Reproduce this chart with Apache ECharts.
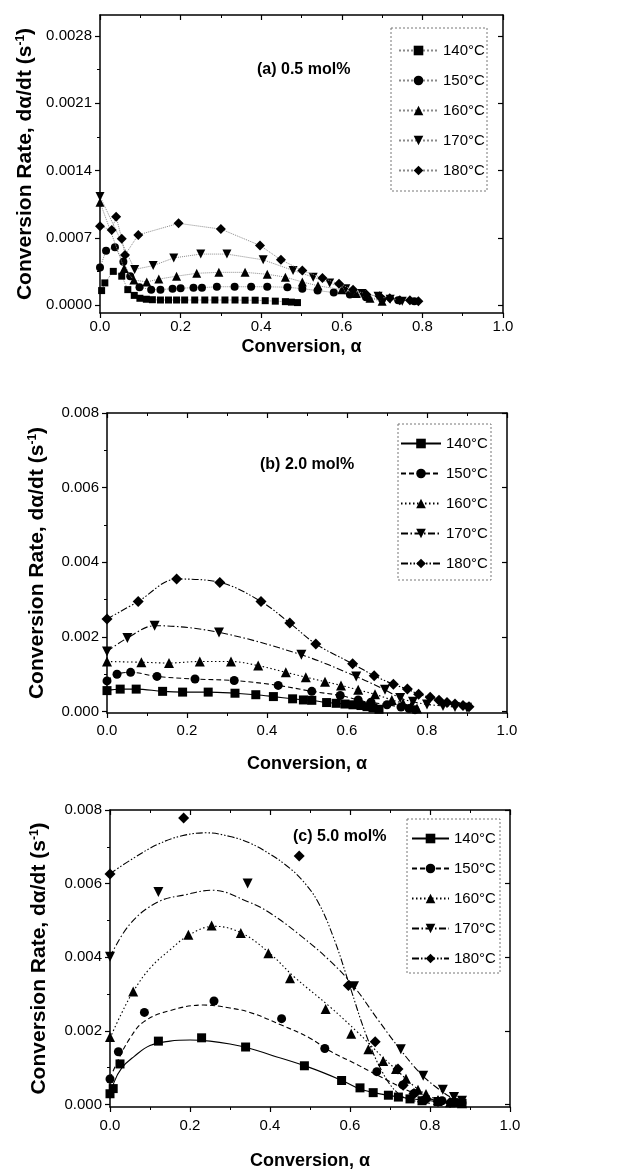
<!DOCTYPE html>
<html><head><meta charset="utf-8">
<script src="https://cdn.jsdelivr.net/npm/echarts@6/dist/echarts.min.js"></script>
<style>html,body{margin:0;padding:0;background:#fff}#c{width:629px;height:1171px}</style>
</head><body><div id="c"></div>
<script>
// ---------- labels / ticks ----------
const temps = ['140°C','150°C','160°C','170°C','180°C'];
const panelLabels = ['(a) 0.5 mol%','(b) 2.0 mol%','(c) 5.0 mol%'];
const xTitle = 'Conversion, α';
const yTitle = 'Conversion Rate, dα/dt (s{sup|-1})';
const xTicks = [0,0.2,0.4,0.6,0.8,1.0];
const xTickLabels = ['0.0','0.2','0.4','0.6','0.8','1.0'];
const yTicksA = [0,0.0007,0.0014,0.0021,0.0028];
const yTickLabelsA = ['0.0000','0.0007','0.0014','0.0021','0.0028'];
const yMinorA = [0.00035,0.00105,0.00175,0.00245];
const yTicksBC = [0,0.002,0.004,0.006,0.008];
const yTickLabelsBC = ['0.000','0.002','0.004','0.006','0.008'];
const yMinorBC = [0.001,0.003,0.005,0.007];

// ---------- panel (a) 0.5 mol% : [alpha, rate] ----------
const a140 = [[0.004,0.00015],[0.012,0.00023],[0.033,0.00035],[0.054,0.0003],[0.069,0.00016],[0.085,0.0001],[0.099,0.00007],[0.115,0.00006],[0.13,0.000055],[0.15,0.000052],[0.17,0.000052],[0.19,0.000052],[0.21,0.000052],[0.235,0.000052],[0.26,0.000052],[0.285,0.000052],[0.31,0.000052],[0.335,0.000052],[0.36,0.00005],[0.385,0.00005],[0.41,0.000045],[0.435,0.00004],[0.46,0.000035],[0.475,0.00003],[0.49,0.000025]];
const a150 = [[0,0.00039],[0.015,0.000565],[0.037,0.0006],[0.058,0.00045],[0.075,0.0003],[0.098,0.000185],[0.127,0.00016],[0.15,0.00016],[0.18,0.00017],[0.2,0.000175],[0.232,0.00018],[0.253,0.00018],[0.29,0.00019],[0.334,0.00019],[0.375,0.00019],[0.415,0.00019],[0.465,0.000185],[0.502,0.00017],[0.54,0.00015],[0.58,0.00013],[0.62,0.00011],[0.66,0.00008],[0.7,0.00006],[0.74,0.00005],[0.78,0.00004]];
const a160 = [[0,0.00107],[0.06,0.00038],[0.084,0.00026],[0.116,0.00024],[0.146,0.00027],[0.19,0.0003],[0.24,0.00033],[0.295,0.00034],[0.36,0.00034],[0.415,0.00032],[0.46,0.00029],[0.502,0.00024],[0.541,0.0002],[0.6,0.00016],[0.636,0.00012],[0.67,0.00007],[0.7,0.00004]];
const a170 = [[0,0.00113],[0.086,0.00037],[0.132,0.00041],[0.183,0.00049],[0.25,0.00053],[0.315,0.00053],[0.405,0.00047],[0.479,0.00036],[0.529,0.00029],[0.57,0.00023],[0.61,0.00017],[0.65,0.00012],[0.69,0.00009],[0.72,0.00006],[0.75,0.00004]];
const a180 = [[0,0.00082],[0.029,0.00078],[0.04,0.00092],[0.054,0.00069],[0.062,0.00052],[0.095,0.00073],[0.195,0.00085],[0.3,0.00079],[0.397,0.00062],[0.449,0.00047],[0.502,0.00036],[0.552,0.00028],[0.593,0.00022],[0.628,0.00016],[0.661,0.00011],[0.694,0.00009],[0.719,0.00007],[0.744,0.00005],[0.769,0.00005],[0.79,0.00004]];

// ---------- panel (b) 2.0 mol% ----------
const b140 = [[0,0.00056],[0.033,0.0006],[0.073,0.0006],[0.139,0.00054],[0.189,0.00052],[0.253,0.00052],[0.32,0.00049],[0.372,0.00045],[0.416,0.0004],[0.464,0.00034],[0.491,0.00031],[0.512,0.0003],[0.549,0.00024],[0.573,0.00022],[0.595,0.0002],[0.615,0.00018],[0.635,0.00016],[0.65,0.00013],[0.665,0.0001],[0.68,0.00006]];
const b150 = [[0,0.00082],[0.025,0.001],[0.059,0.00105],[0.125,0.00094],[0.22,0.00087],[0.318,0.00083],[0.428,0.0007],[0.512,0.00054],[0.583,0.00043],[0.628,0.00031],[0.66,0.00025],[0.7,0.00018],[0.735,0.00012],[0.755,0.00008],[0.77,0.00005]];
const b160 = [[0,0.00134],[0.086,0.00132],[0.155,0.0013],[0.232,0.00134],[0.31,0.00134],[0.378,0.00123],[0.447,0.00105],[0.497,0.00092],[0.545,0.0008],[0.585,0.0007],[0.628,0.00058],[0.67,0.00046],[0.712,0.00031],[0.74,0.00022],[0.76,0.00014],[0.775,0.00008]];
const b170 = [[0,0.00161],[0.051,0.00197],[0.119,0.0023],[0.28,0.00212],[0.486,0.00152],[0.623,0.00094],[0.695,0.00058],[0.733,0.00036],[0.765,0.00026],[0.8,0.00019],[0.84,0.00015],[0.87,0.00012],[0.9,0.0001]];
const b180 = [[0,0.00248],[0.078,0.00295],[0.174,0.00355],[0.282,0.00346],[0.385,0.00295],[0.457,0.00237],[0.522,0.00181],[0.614,0.00128],[0.668,0.00096],[0.716,0.00073],[0.751,0.0006],[0.779,0.00046],[0.808,0.00038],[0.83,0.0003],[0.85,0.00024],[0.87,0.0002],[0.89,0.00016],[0.905,0.00013]];

// ---------- panel (c) 5.0 mol% : measured points ----------
const c140 = [[0,0.00029],[0.008,0.00043],[0.025,0.0011],[0.121,0.00172],[0.229,0.00181],[0.339,0.00156],[0.486,0.00105],[0.579,0.00065],[0.625,0.00045],[0.658,0.00032],[0.696,0.00025],[0.721,0.0002],[0.75,0.00015],[0.78,0.0001],[0.82,0.00008],[0.86,0.00005],[0.88,0.00003]];
const c150 = [[0,0.00069],[0.021,0.00143],[0.086,0.0025],[0.26,0.00281],[0.429,0.00233],[0.537,0.00152],[0.667,0.00089],[0.732,0.00053],[0.76,0.0003],[0.79,0.00015],[0.83,0.0001],[0.86,0.00006],[0.88,0.00004]];
const c160 = [[0,0.00183],[0.058,0.00307],[0.196,0.00461],[0.254,0.00486],[0.327,0.00466],[0.396,0.00411],[0.45,0.00343],[0.539,0.00259],[0.603,0.00192],[0.646,0.0015],[0.683,0.00118],[0.715,0.00096],[0.74,0.0007],[0.77,0.0004],[0.79,0.00028],[0.82,0.00012],[0.85,0.00006],[0.88,0.00003]];
const c170 = [[0,0.00401],[0.121,0.00577],[0.344,0.006],[0.61,0.00321],[0.727,0.0015],[0.783,0.00078],[0.832,0.0004],[0.86,0.0002],[0.88,0.0001]];
const c180 = [[0,0.00626],[0.184,0.00778],[0.473,0.00675],[0.596,0.00323],[0.663,0.0017],[0.72,0.00096],[0.733,0.00052],[0.76,0.0003],[0.79,0.00015],[0.82,0.00008],[0.85,0.00005]];
// ---------- panel (c) fitted curves ----------
const c140fit = [[0,0.00016],[0.01,0.0006],[0.03,0.001],[0.06,0.0013],[0.1,0.0016],[0.15,0.00172],[0.2,0.00175],[0.25,0.00172],[0.3,0.00164],[0.35,0.00152],[0.4,0.00135],[0.5,0.001],[0.58,0.00065],[0.62,0.00044],[0.66,0.00032],[0.7,0.00024],[0.75,0.00016],[0.8,0.0001],[0.85,0.00005],[0.88,0.00003]];
const c150fit = [[0,0.0007],[0.02,0.0012],[0.05,0.0018],[0.085,0.00225],[0.15,0.00255],[0.234,0.0027],[0.3,0.00262],[0.35,0.0025],[0.43,0.00215],[0.5,0.0018],[0.55,0.00145],[0.6,0.00118],[0.65,0.0009],[0.7,0.00062],[0.75,0.00035],[0.8,0.00015],[0.85,0.00005],[0.88,0.00002]];
const c160fit = [[0,0.0018],[0.03,0.0025],[0.06,0.0031],[0.1,0.0037],[0.15,0.0042],[0.2,0.00462],[0.26,0.00484],[0.33,0.00465],[0.4,0.0041],[0.46,0.00347],[0.55,0.00265],[0.62,0.00195],[0.68,0.0013],[0.72,0.0009],[0.76,0.0005],[0.8,0.00022],[0.84,0.00008],[0.88,0.00003]];
const c170fit = [[0,0.004],[0.05,0.0049],[0.12,0.0055],[0.19,0.0057],[0.255,0.00582],[0.347,0.0055],[0.4,0.0052],[0.475,0.0046],[0.55,0.0039],[0.61,0.0032],[0.67,0.0023],[0.725,0.0015],[0.78,0.0008],[0.83,0.00035],[0.86,0.00015],[0.89,0.00005]];
const c180fit = [[0,0.00627],[0.06,0.0067],[0.12,0.00707],[0.18,0.0073],[0.24,0.00738],[0.3,0.00728],[0.35,0.0071],[0.4,0.0068],[0.44,0.0065],[0.48,0.0061],[0.52,0.0055],[0.56,0.0045],[0.6,0.0032],[0.64,0.0019],[0.68,0.0009],[0.72,0.0003],[0.76,0.0001],[0.8,0.00003]];

// ---------- build ----------
const FONT = '"Liberation Sans", Arial, Helvetica, sans-serif';
const DOWN = 'path://M0,0 L10,0 L5,9 Z';
const DIAM = 'path://M5,0 L10,5 L5,10 L0,5 Z';
const symbols = ['rect','circle','triangle',DOWN,DIAM];
const symSizeA = [7,8,9,9,10];
const symSizeBC = [9,9,10,10,11];
const dashes = ['solid',[5,3],[1.5,2.5],[7,2.5,1.5,2.5],[7,2,1.5,2,1.5,2]];

const grids = [
  {left:100, top:15, width:403, height:298},
  {left:107, top:413, width:400, height:300},
  {left:110, top:810, width:400, height:302}
];
const yRange = [[-0.0000833,0.003019],[-0.00004,0.008],[-0.00007,0.008]];
const yTicks = [yTicksA,yTicksBC,yTicksBC];
const yLabels = [yTickLabelsA,yTickLabelsBC,yTickLabelsBC];
const yMinor = [yMinorA,yMinorBC,yMinorBC];
const xNameGap = [25,42,45];
const xLabelMargin = [6,10,11];
const yNameGap = [64,59,60];

const xAxes = [], yAxes = [];
grids.forEach((g,i)=>{
  const fmtX = v => { const k = xTicks.findIndex(t=>Math.abs(t-v)<1e-9); return k<0?'':xTickLabels[k]; };
  xAxes.push({gridIndex:i,type:'value',min:0,max:1,interval:0.2,position:'bottom',
    axisLine:{show:true,onZero:false,lineStyle:{color:'#000',width:1.5}},
    axisTick:{show:true,inside:false,length:5,lineStyle:{color:'#000',width:1.2}},
    minorTick:{show:true,splitNumber:2,length:3,lineStyle:{color:'#000',width:1}},
    splitLine:{show:false},
    axisLabel:{formatter:fmtX,margin:xLabelMargin[i],fontSize:15,color:'#000',fontFamily:FONT},
    name:xTitle,nameLocation:'middle',nameGap:xNameGap[i],
    nameTextStyle:{fontSize:18,fontWeight:'bold',color:'#000',fontFamily:FONT}});
  xAxes.push({gridIndex:i,type:'value',min:0,max:1,interval:0.2,position:'top',
    axisLine:{show:true,onZero:false,lineStyle:{color:'#000',width:1.5}},
    axisTick:{show:true,inside:true,length:5,lineStyle:{color:'#000',width:1.2}},
    minorTick:{show:true,splitNumber:2,length:3,lineStyle:{color:'#000',width:1}},
    splitLine:{show:false},axisLabel:{show:false}});
  const yl = yLabels[i], yt = yTicks[i];
  const fmtY = v => { const k = yt.findIndex(t=>Math.abs(t-v)<1e-12); return k<0?'':yl[k]; };
  yAxes.push({gridIndex:i,type:'value',min:yRange[i][0],max:yRange[i][1],position:'left',
    axisLine:{show:true,onZero:false,lineStyle:{color:'#000',width:1.5}},
    axisTick:{show:true,inside:false,length:5,customValues:yt,lineStyle:{color:'#000',width:1.2}},
    axisLabel:{customValues:yt,formatter:fmtY,margin:8,fontSize:15,color:'#000',fontFamily:FONT},
    splitLine:{show:false},
    name:yTitle,nameLocation:'middle',nameGap:yNameGap[i],nameRotate:90,
    nameTextStyle:{fontSize:21,fontWeight:'bold',color:'#000',fontFamily:FONT,
      rich:{sup:{fontSize:12,fontWeight:'bold',color:'#000',fontFamily:FONT,verticalAlign:'top',padding:[0,0,9,0]}}}});
  yAxes.push({gridIndex:i,type:'value',min:yRange[i][0],max:yRange[i][1],position:'left',
    axisLine:{show:false},
    axisTick:{show:true,inside:false,length:3,customValues:yMinor[i],lineStyle:{color:'#000',width:1}},
    axisLabel:{show:false},splitLine:{show:false}});
  yAxes.push({gridIndex:i,type:'value',min:yRange[i][0],max:yRange[i][1],position:'right',
    axisLine:{show:true,onZero:false,lineStyle:{color:'#000',width:1.5}},
    axisTick:{show:true,inside:true,length:5,customValues:yt,lineStyle:{color:'#000',width:1.2}},
    axisLabel:{show:false},splitLine:{show:false}});
});

const series = [];
const panelData = [[a140,a150,a160,a170,a180],[b140,b150,b160,b170,b180],[c140,c150,c160,c170,c180]];
const fitData = [c140fit,c150fit,c160fit,c170fit,c180fit];
const prefixes = ['a','b','c'];
temps.forEach((t,k)=>{
  // (a) points joined by faint dotted lines
  series.push({name:'a'+t,type:'line',xAxisIndex:0,yAxisIndex:0,data:panelData[0][k],
    symbol:symbols[k],symbolSize:symSizeA[k],showSymbol:true,smooth:false,
    itemStyle:{color:'#000',opacity:1},lineStyle:{color:'#8a8a8a',width:1,type:'dotted'},z:3+k,animation:false});
  // (b) smooth curves through the points
  series.push({name:'b'+t,type:'line',xAxisIndex:2,yAxisIndex:3,data:panelData[1][k],
    symbol:symbols[k],symbolSize:symSizeBC[k],showSymbol:true,smooth:0.35,
    itemStyle:{color:'#000',opacity:1},lineStyle:{color:'#000',width:1.1,type:dashes[k]},z:3+k,animation:false});
  // (c) fitted curves + measured points
  series.push({name:'c'+t,type:'line',xAxisIndex:4,yAxisIndex:6,data:fitData[k],
    symbol:symbols[k],symbolSize:symSizeBC[k],showSymbol:false,smooth:0.4,
    itemStyle:{color:'#000',opacity:1},lineStyle:{color:'#000',width:1.1,type:dashes[k]},z:3,animation:false});
  series.push({name:'cpts'+t,type:'scatter',xAxisIndex:4,yAxisIndex:6,data:panelData[2][k],
    symbol:symbols[k],symbolSize:symSizeBC[k],itemStyle:{color:'#000',opacity:1},z:5+k,animation:false});
});

const legendPos = [{left:398,top:43,w:39},{left:400,top:436,w:40},{left:411,top:831,w:37}];
const legends = prefixes.map((p,i)=>({
  data:temps.map(t=>p+t),orient:'vertical',left:legendPos[i].left,top:legendPos[i].top,
  padding:0,itemWidth:legendPos[i].w,itemHeight:12,itemGap:15,selectedMode:false,
  formatter:name=>name.slice(1),
  textStyle:{fontSize:15,color:'#000',fontFamily:FONT}
}));

const titlePos = [{left:257,top:62},{left:260,top:457},{left:293,top:829}];
const titles = panelLabels.map((s,i)=>({text:s,left:titlePos[i].left,top:titlePos[i].top,padding:0,
  textStyle:{fontSize:16,fontWeight:'bold',color:'#000',fontFamily:FONT}}));

const boxes = [[391,28,96,163],[398,424,93,156],[407,819,93,154]];
const graphic = boxes.map(b=>({type:'rect',shape:{x:b[0],y:b[1],width:b[2],height:b[3]},
  style:{fill:'none',stroke:'#777',lineWidth:1,lineDash:[2,2]},silent:true,z:1}));

const chart = echarts.init(document.getElementById('c'),null,{renderer:'canvas'});
chart.setOption({
  backgroundColor:'#fff',animation:false,
  title:titles,legend:legends,grid:grids,xAxis:xAxes,yAxis:yAxes,series:series,graphic:graphic
});
</script></body></html>
